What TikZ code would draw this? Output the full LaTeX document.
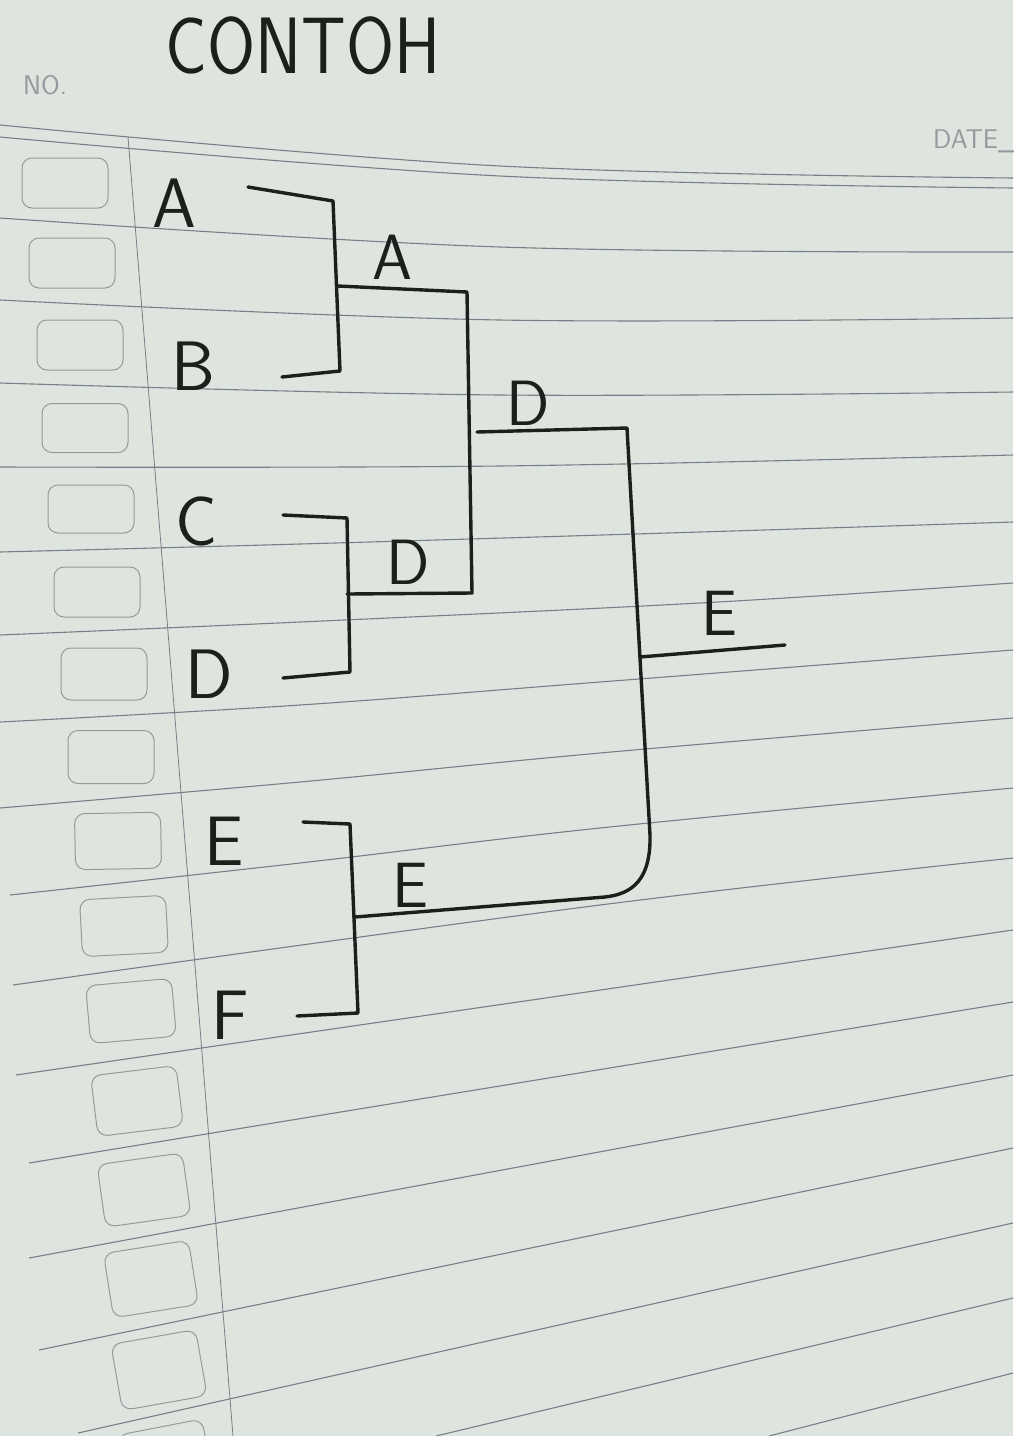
\documentclass[tikz,border=0pt]{standalone}
\usepackage{fontspec}

\definecolor{paper}{RGB}{221,229,222}
\definecolor{rulegray}{RGB}{122,126,136}
\definecolor{printgray}{RGB}{150,154,158}
\definecolor{ink}{RGB}{26,32,28}

\tikzset{ruled line/.style={rulegray, line width=1.1pt},
    margin line/.style={rulegray, line width=0.8pt},
    margin box/.style={printgray, line width=1pt, rounded corners=10pt},
    bracket/.style={ink, line width=3.4pt, line cap=round, line join=round},
    player/.style={ink, inner sep=0pt, font=\sffamily\fontsize{70}{70}\selectfont},
    winner/.style={player, font=\sffamily\fontsize{64}{64}\selectfont},
    heading/.style={ink, inner sep=0pt, xscale=0.87, transform shape,
        font=\sffamily\fontsize{80}{80}\selectfont},
    printed/.style={printgray, inner sep=0pt, font=\sffamily\fontsize{27}{27}\selectfont},
}

\begin{document}
\begin{tikzpicture}[x=1pt, y=-1pt]

	% paper
	\fill[paper] (0,0) rectangle (1013,1436);
	\useasboundingbox (0,0) rectangle (1013,1436);

	% ruled lines of the page
	\draw[ruled line] plot[smooth, tension=0.6] coordinates {(0,125) (500,166) (1013,178)};
	\draw[ruled line] plot[smooth, tension=0.6] coordinates {(0,137) (500,176) (1013,188)};
	\draw[ruled line] plot[smooth, tension=0.6] coordinates {(0,218) (500,247) (1013,252)};
	\draw[ruled line] plot[smooth, tension=0.6] coordinates {(0,300) (500,320) (1013,318)};
	\draw[ruled line] plot[smooth, tension=0.6] coordinates {(0,383) (500,395) (1013,392)};
	\draw[ruled line] plot[smooth, tension=0.6] coordinates {(0,467) (500,466) (1013,455)};
	\draw[ruled line] plot[smooth, tension=0.6] coordinates {(0,552) (300,544) (700,532) (1013,522)};
	\draw[ruled line] plot[smooth, tension=0.6] coordinates {(0,635) (300,622) (700,603) (1013,583)};
	\draw[ruled line] plot[smooth, tension=0.6] coordinates {(0,722) (300,705) (600,682) (1013,650)};
	\draw[ruled line] plot[smooth, tension=0.6] coordinates {(0,808) (300,782) (600,753) (1013,718)};
	\draw[ruled line] plot[smooth, tension=0.6] coordinates {(10,895) (300,863) (600,828) (1013,788)};
	\draw[ruled line] plot[smooth, tension=0.6] coordinates {(13,985) (600,905) (1013,858)};
	\foreach \xa/\ya/\yb in {16/1075/930, 29/1163/1002, 29/1258/1075, 39/1350/1148, 78/1433/1223} {
		\draw[ruled line] (\xa,\ya) -- (1013,\yb);
	}
	\draw[ruled line] (436,1436) -- (1013,1298);
	\draw[ruled line] (769,1436) -- (1013,1373);

	% margin line
	\draw[margin line] (128,137) -- (233,1436);

	% boxes in the margin
	\foreach \x/\y/\h/\a in {65/183/50/0, 72/263/50/0, 80/345/50/0, 85/428/49/0,
		91/509/48/0, 97/592/50/0, 104/674/52/0, 111/757/53/0, 118/841/56/1,
		124/926/57/3, 131/1011/58/5, 137/1101/61/7, 144/1190/63/8,
		151/1279/65/9, 159/1370/67/10, 166/1460/67/11} {
		\draw[margin box, rotate around={\a:(\x,\y)}] (\x-43,\y-\h/2) rectangle (\x+43,\y+\h/2);
	}

	% printed texts
	\node[printed] (number) at (45,85) {NO.};
	\node[printed, anchor=west] (date) at (933,141) {DATE\_};

	% heading
	\node[heading] (title) at (303,46) {CONTOH};

	% players
	\node[player] (pA) at (174,203) {A};
	\node[player] (pB) at (193,366) {B};
	\node[player] (pC) at (197,521) {C};
	\node[player] (pD) at (209,674) {D};
	\node[player] (pE) at (224,841) {E};
	\node[player] (pF) at (230,1015) {F};

	% winners
	\node[winner] (wAB) at (392,257) {A};
	\node[winner] (wCD) at (408,562) {D};
	\node[winner] (wEF) at (410,885) {E};
	\node[winner] (wABCD) at (528,403) {D};
	\node[winner] (wAll) at (719,613) {E};

	% bracket points
	\coordinate (a1) at (248,187);
	\coordinate (a2) at (333,201);
	\coordinate (b2) at (340,371);
	\coordinate (b1) at (282,377);
	\coordinate (ab) at (338,286);
	\coordinate (abR) at (467,292);
	\coordinate (c1) at (283,515);
	\coordinate (c2) at (347,518);
	\coordinate (d2) at (350,672);
	\coordinate (d1) at (283,678);
	\coordinate (cd) at (347,594);
	\coordinate (cdR) at (472,593);
	\coordinate (e1) at (303,822);
	\coordinate (e2) at (350,824);
	\coordinate (f2) at (358,1013);
	\coordinate (f1) at (297,1016);
	\coordinate (ef) at (355,917);
	\coordinate (efR) at (605,897);
	\coordinate (abcd) at (477,432);
	\coordinate (abcdR) at (627,428);
	\coordinate (turn) at (650,835);
	\coordinate (final) at (640,657);
	\coordinate (champ) at (785,645);

	% first round
	\draw[bracket] (a1) -- (a2) -- (b2) -- (b1);
	\draw[bracket] (c1) -- (c2) -- (d2) -- (d1);
	\draw[bracket] (e1) -- (e2) -- (f2) -- (f1);
	% second round
	\draw[bracket] (ab) -- (abR) -- (cdR) -- (cd);
	% third round
	\draw[bracket] (abcd) -- (abcdR) -- (turn) .. controls (651,880) and (632,894) .. (efR) -- (ef);
	% final
	\draw[bracket] (final) -- (champ);

\end{tikzpicture}
\end{document}
